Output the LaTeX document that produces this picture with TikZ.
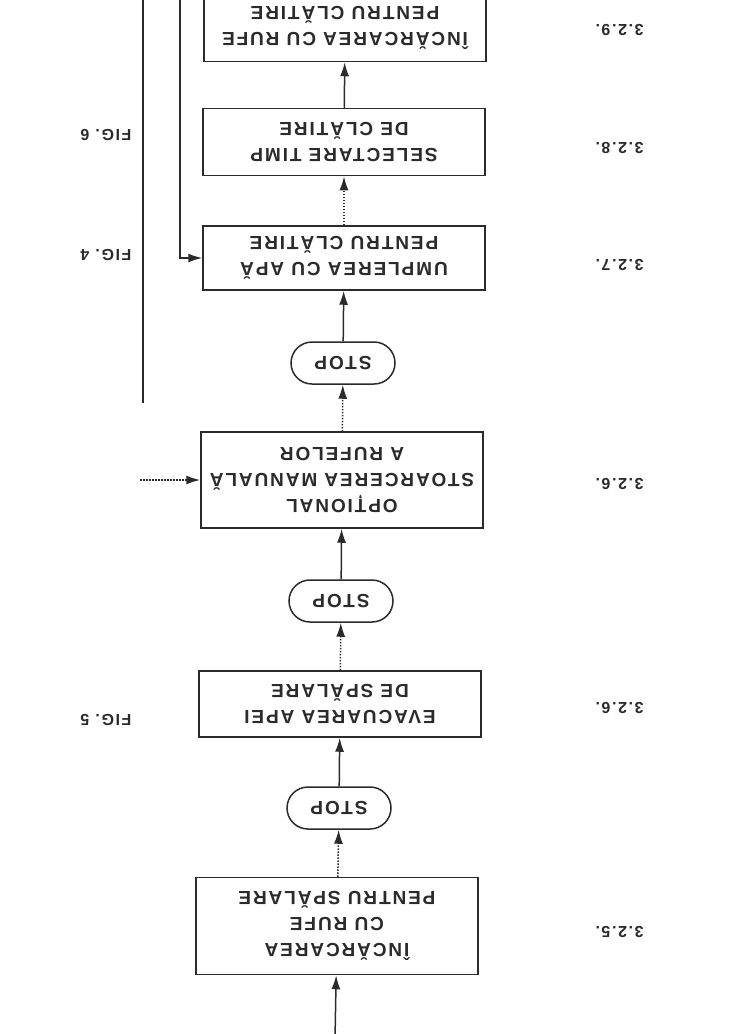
\documentclass[tikz,border=0pt]{standalone}
\usepackage{fontspec}
\usetikzlibrary{arrows.meta}
\newfontfamily\flowfont{Liberation Sans}[LetterSpace=10]
\definecolor{inkc}{HTML}{2B2B2B}
\tikzset{
  stepbox/.style={draw=inkc, line width=1.5pt, minimum width=282pt, align=center,
    rotate=180, text=inkc, inner sep=0pt, font=\flowfont\bfseries\fontsize{19}{26}\selectfont},
  stopbox/.style={draw=inkc, line width=1.5pt, rounded corners=21pt, minimum width=104pt,
    minimum height=42pt, rotate=180, text=inkc, font=\flowfont\bfseries\fontsize{19}{26}\selectfont},
  flow/.style={draw=inkc, line width=1.5pt, -{Latex[length=14pt,width=9pt]}},
  dotflow/.style={flow, dash pattern=on 1.5pt off 1.5pt},
  plainline/.style={draw=inkc, line width=1.5pt},
  secno/.style={rotate=180, anchor=east, text=inkc, font=\flowfont\bfseries\fontsize{16}{18}\selectfont},
  figref/.style={rotate=180, text=inkc, font=\flowfont\bfseries\fontsize{16}{18}\selectfont}
}
\begin{document}
\begin{tikzpicture}[x=1pt,y=-1pt]
  \useasboundingbox (0,0) rectangle (734,1034);
  % main column (the sheet is printed upside down)
  \node[stepbox, minimum height=67pt] (s329) at (345,28) {ÎNCĂRCAREA CU RUFE\\PENTRU CLĂTIRE};
  \node[stepbox, minimum height=67pt] (s328) at (344,142) {SELECTARE TIMP\\DE CLĂTIRE};
  \node[stepbox, minimum height=64pt] (s327) at (344,258) {UMPLEREA CU APĂ\\PENTRU CLĂTIRE};
  \node[stopbox] (stop1) at (343,363) {STOP};
  \node[stepbox, minimum height=96pt] (s326o) at (342,480) {OPȚIONAL\\STOARCEREA MANUALĂ\\A RUFELOR};
  \node[stopbox] (stop2) at (341,601) {STOP};
  \node[stepbox, minimum height=66pt] (s326) at (340,704) {EVACUAREA APEI\\DE SPĂLARE};
  \node[stopbox] (stop3) at (339,808) {STOP};
  \node[stepbox, minimum height=97pt] (s325) at (337,926) {ÎNCĂRCAREA\\CU RUFE\\PENTRU SPĂLARE};
  % section numbers
  \node[secno] (n329) at (592,30) {3.2.9.};
  \node[secno] (n328) at (592,148) {3.2.8.};
  \node[secno] (n327) at (592,265) {3.2.7.};
  \node[secno] (n326o) at (592,484) {3.2.6.};
  \node[secno] (n326) at (592,708) {3.2.6.};
  \node[secno] (n325) at (592,932) {3.2.5.};
  % figure references
  \node[figref] (f6) at (106,135) {FIG. 6};
  \node[figref] (f4) at (106,255) {FIG. 4};
  \node[figref] (f5) at (106,720) {FIG. 5};
  % free ends
  \coordinate (feed) at (335,1040);
  \coordinate (loopT) at (180,-5);
  \coordinate (sideO) at (140,480);
  \coordinate (outT) at (143,-5);
  \coordinate (outB) at (143,403);
  % connectors
  \draw[flow] (feed) -- (s325);
  \draw[dotflow] (s325) -- (stop3);
  \draw[flow] (stop3) -- (s326);
  \draw[dotflow] (s326) -- (stop2);
  \draw[flow] (stop2) -- (s326o);
  \draw[dotflow] (s326o) -- (stop1);
  \draw[flow] (stop1) -- (s327);
  \draw[dotflow] (s327) -- (s328);
  \draw[flow] (s328) -- (s329);
  \draw[flow] (loopT) |- (s327);
  \draw[dotflow] (sideO) -- (s326o);
  \draw[plainline] (outT) -- (outB);
\end{tikzpicture}
\end{document}
